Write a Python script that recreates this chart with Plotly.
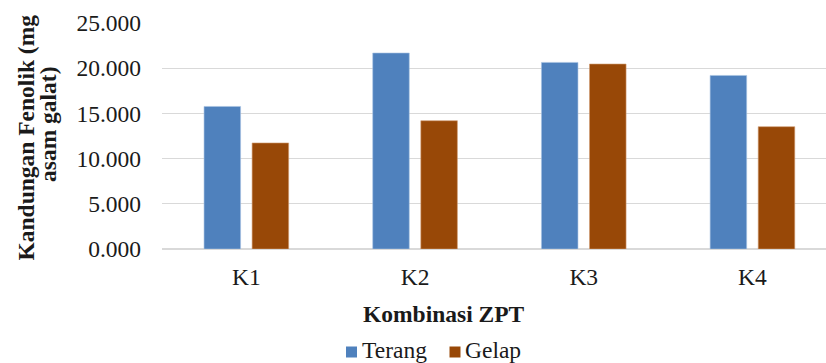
import plotly.graph_objects as go

# Total phenolic content per plant growth regulator combination
categories = ["K1", "K2", "K3", "K4"]
terang = [15.77, 21.68, 20.64, 19.20]
gelap = [11.73, 14.19, 20.46, 13.53]
y_ticks = [0, 5, 10, 15, 20, 25]
y_tick_text = ["0.000", "5.000", "10.000", "15.000", "20.000", "25.000"]

FONT = "Liberation Serif"
TEXT = "#1a1a1a"
SIZE = 23.5
BLUE = "#4F81BD"
BROWN = "#984807"

W, H = 826, 363
L, R, T, B = 162, 0, 23, 114
PW, PH = W - L - R, H - T - B


def px_x(px):
    """Pixel column -> paper x."""
    return (px - L) / PW


def px_y(py):
    """Pixel row -> paper y."""
    return (H - B - py) / PH


fig = go.Figure()
fig.add_trace(go.Bar(
    name="Terang", x=categories, y=terang,
    marker=dict(color=BLUE, line=dict(color="#A8C2E2", width=0.6)),
))
fig.add_trace(go.Bar(
    name="Gelap", x=categories, y=gelap,
    marker=dict(color=BROWN, line=dict(color="#D09A70", width=0.6)),
))

# Legend drawn as swatches + labels so the spacing stays compact
legend_items = [("Terang", BLUE, 346, 362), ("Gelap", BROWN, 449.5, 465)]
shapes = []
annotations = []
for label, color, sx, tx in legend_items:
    shapes.append(dict(
        type="rect", xref="paper", yref="paper",
        x0=px_x(sx), x1=px_x(sx + 11), y0=px_y(357.5), y1=px_y(346.5),
        fillcolor=color, line=dict(width=0),
    ))
    annotations.append(dict(
        text=label, xref="paper", yref="paper", x=px_x(tx - 2), y=px_y(349.5),
        xanchor="left", yanchor="middle", showarrow=False,
        font=dict(family=FONT, size=SIZE, color=TEXT),
    ))

annotations += [
    dict(text="<b>Kombinasi ZPT</b>", xref="paper", yref="paper",
         x=px_x(443.5), y=px_y(314), xanchor="center", yanchor="middle",
         showarrow=False, font=dict(family=FONT, size=SIZE, color=TEXT)),
    dict(text="<b>Kandungan Fenolik (mg</b>", xref="paper", yref="paper",
         x=px_x(25), y=px_y(137.5), xanchor="center", yanchor="middle",
         showarrow=False, textangle=-90,
         font=dict(family=FONT, size=SIZE, color=TEXT)),
    dict(text="<b>asam galat)</b>", xref="paper", yref="paper",
         x=px_x(48), y=px_y(124), xanchor="center", yanchor="middle",
         showarrow=False, textangle=-90,
         font=dict(family=FONT, size=SIZE, color=TEXT)),
]

fig.update_layout(
    width=W, height=H,
    margin=dict(l=L, r=R, t=T, b=B, autoexpand=False),
    plot_bgcolor="white", paper_bgcolor="white",
    barmode="group", bargap=0.43, bargroupgap=0.24,
    font=dict(family=FONT, color=TEXT),
    showlegend=False,
    xaxis=dict(
        range=[-0.5, 3.436], showgrid=False, ticks="", automargin=False,
        showline=False, tickfont=dict(family=FONT, size=SIZE, color=TEXT),
        ticklabelstandoff=11,
    ),
    yaxis=dict(
        range=[0, 25], tickvals=y_ticks, ticktext=y_tick_text, automargin=False,
        showgrid=True, gridcolor="#D9D9D9", gridwidth=1.2,
        zeroline=True, zerolinecolor="#D9D9D9", zerolinewidth=1.5,
        showline=False, ticks="",
        tickfont=dict(family=FONT, size=SIZE, color=TEXT),
        ticklabelstandoff=20,
    ),
    shapes=shapes,
    annotations=annotations,
)

fig.write_html("out.html")
